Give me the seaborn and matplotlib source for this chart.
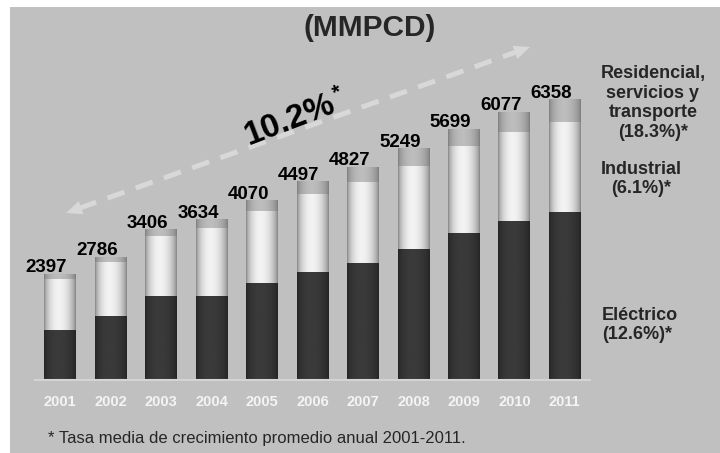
import numpy as np
import pandas as pd
import seaborn as sns
import matplotlib.pyplot as plt
from matplotlib.patches import Rectangle, Polygon

# Consumo de gas natural por sector (MMPCD)
years = ['2001', '2002', '2003', '2004', '2005', '2006', '2007', '2008', '2009', '2010', '2011']
totals = [2397, 2786, 3406, 3634, 4070, 4497, 4827, 5249, 5699, 6077, 6358]
electrico = [1134, 1451, 1905, 1905, 2200, 2449, 2653, 2970, 3333, 3605, 3794]
industrial = [1156, 1225, 1360, 1524, 1622, 1759, 1827, 1889, 1965, 2010, 2056]
residencial = [107, 110, 141, 205, 248, 289, 347, 390, 401, 462, 508]

df = pd.DataFrame({'year': years, 'elec': electrico, 'ind': industrial, 'res': residencial})
df['top_ind'] = df['elec'] + df['ind']
df['top_res'] = df['top_ind'] + df['res']

sns.set_style('white')
plt.rcParams['font.family'] = ['Liberation Sans', 'DejaVu Sans']

W, H = 720, 453
fig = plt.figure(figsize=(7.2, 4.53), dpi=100, facecolor='white')


def fx(px):
    return px / W


def fy(py):
    return 1 - py / H


# gray background panel (white strip on top and left)
fig.add_artist(Rectangle((fx(10), 0), 1, fy(7), transform=fig.transFigure,
                         facecolor='#c0c0c0', edgecolor='none', zorder=-10))

ax = fig.add_axes([fx(35), fy(380), fx(590) - fx(35), fy(40) - fy(380)])
ax.set_facecolor('none')

layers = [('top_res', '#a0a0a0', (0.48, 0.74)),
          ('top_ind', '#c8c8c8', (0.50, 0.95)),
          ('elec', '#2e2e2e', (0.14, 0.23))]
for col, c, _ in layers:
    sns.barplot(x='year', y=col, data=df, color=c, width=0.63, saturation=1,
                ax=ax, order=years, errorbar=None, edgecolor='none', linewidth=0)

# cylinder-like shading on each bar
t = np.linspace(0, 1, 80)
shape = np.sin(np.pi * t ** 0.9) ** 0.6
n = len(years)
for i, (col, c, (lo, hi)) in enumerate(layers):
    grad = lo + (hi - lo) * shape
    for p in ax.patches[i * n:(i + 1) * n]:
        x0, y0, w, h = p.get_x(), p.get_y(), p.get_width(), p.get_height()
        ax.imshow(grad[None, :], cmap='gray', vmin=0, vmax=1, aspect='auto',
                  extent=(x0, x0 + w, y0, y0 + h), interpolation='bilinear',
                  zorder=p.get_zorder() + 0.1 + i * 0.01)

ax.set_xlim(-0.5, n - 0.5)
ax.set_ylim(0, 7720)

# total labels
for i, tot in enumerate(totals):
    ax.text(i - 0.27, tot + 45, str(tot), ha='center', va='baseline',
            fontsize=13.5, fontweight='bold', color='black', zorder=10)

ax.set_yticks([])
ax.set_xlabel('')
ax.set_ylabel('')
for s in ['left', 'top', 'right']:
    ax.spines[s].set_visible(False)
ax.spines['bottom'].set_color('#d4d4d4')
ax.spines['bottom'].set_linewidth(1.5)
ax.tick_params(axis='x', length=0, pad=11, labelsize=10.5, labelcolor='#f4f4f4')
for lab in ax.get_xticklabels():
    lab.set_fontweight('bold')
ax.set_xticks(np.arange(-0.5, n, 1), minor=True)
ax.tick_params(axis='x', which='minor', length=4, width=1.2, color='#d4d4d4', direction='in')

# title
fig.text(fx(370), fy(28), '(MMPCD)', ha='center', va='center',
         fontsize=21.5, fontweight='bold')

# growth arrow (dashed, double headed)
p0 = np.array([66.0, 213.0])
p1 = np.array([530.0, 47.0])
u = (p1 - p0) / np.linalg.norm(p1 - p0)
nv = np.array([-u[1], u[0]])
hl, hw = 16, 7
a = p0 + u * (hl - 2)
b = p1 - u * (hl - 2)
fig.add_artist(plt.Line2D([fx(a[0]), fx(b[0])], [fy(a[1]), fy(b[1])], transform=fig.transFigure,
                          color='#d8d8d8', lw=3.6, dashes=(3.6, 2.4), solid_capstyle='butt',
                          dash_capstyle='butt', zorder=1))
for tip, d in [(p0, u), (p1, -u)]:
    base = tip + d * hl
    pts = [tip, base + nv * hw, base - nv * hw]
    fig.add_artist(Polygon([(fx(x), fy(y)) for x, y in pts], closed=True,
                           transform=fig.transFigure, facecolor='#d8d8d8',
                           edgecolor='none', zorder=1))

fig.text(fx(290), fy(120), '10.2%', ha='center', va='center', rotation=21,
         rotation_mode='anchor', fontsize=24, fontweight='bold', color='black', zorder=5)
fig.text(fx(337), fy(92), '*', ha='center', va='center', rotation=21,
         fontsize=15, fontweight='bold', color='black', zorder=5)

# sector labels on the right
fig.text(fx(653), fy(103), 'Residencial,\nservicios y\ntransporte\n(18.3%)*',
         ha='center', va='center', multialignment='center',
         fontsize=13, fontweight='bold', linespacing=1.2)
fig.text(fx(641), fy(179), 'Industrial\n(6.1%)*', ha='center', va='center',
         multialignment='center', fontsize=13, fontweight='bold', linespacing=1.2)
fig.text(fx(602), fy(325), 'Eléctrico\n(12.6%)*', ha='left', va='center',
         multialignment='left', fontsize=13, fontweight='bold', linespacing=1.2)

# footnote
fig.text(fx(48), fy(438), '* Tasa media de crecimiento promedio anual 2001-2011.',
         ha='left', va='center', fontsize=12)

plt.savefig('out.png', dpi=100, facecolor='white')
